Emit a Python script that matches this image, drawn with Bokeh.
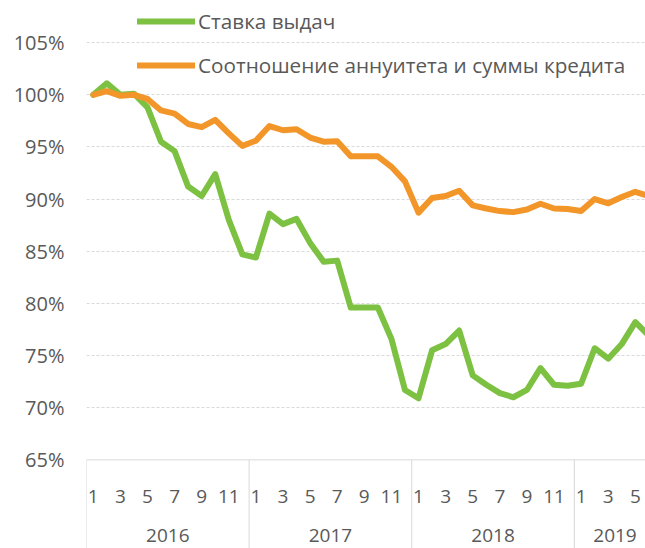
import numpy as np
from bokeh.plotting import figure
from bokeh.models import FixedTicker, PrintfTickFormatter, Legend, LegendItem, Span
from bokeh.core.properties import value
from bokeh.embed import file_html
from bokeh.resources import INLINE

# ---- data ----
years = ["2016", "2017", "2018", "2019"]
months_per_year = [12, 12, 12, 6]
odd_months = [1, 3, 5, 7, 9, 11]

stavka = [100.0, 101.1, 100.0, 100.1, 98.8, 95.5, 94.6, 91.2, 90.3, 92.4, 88.0, 84.7,
          84.4, 88.6, 87.6, 88.1, 85.8, 84.0, 84.1, 79.6, 79.6, 79.6, 76.6, 71.7,
          70.9, 75.5, 76.1, 77.4, 73.1, 72.2, 71.4, 71.0, 71.7, 73.8, 72.2, 72.1,
          72.3, 75.7, 74.7, 76.1, 78.2, 76.9]
ratio = [100.0, 100.35, 99.9, 100.0, 99.6, 98.5, 98.2, 97.2, 96.9, 97.6, 96.3, 95.1,
         95.6, 97.0, 96.6, 96.7, 95.9, 95.5, 95.55, 94.1, 94.1, 94.1, 93.1, 91.7,
         88.7, 90.1, 90.3, 90.8, 89.4, 89.1, 88.85, 88.75, 89.0, 89.55, 89.1, 89.05,
         88.85, 90.0, 89.6, 90.2, 90.7, 90.3]
y_ticks = [65, 70, 75, 80, 85, 90, 95, 100, 105]
series_names = ["Ставка выдач", "Соотношение аннуитета и суммы кредита"]

GREEN = "#7DC142"
ORANGE = "#F2962A"
TEXT = "#595959"
GRID = "#D9D9D9"
FONT = "Open Sans"

x = np.arange(len(stavka))

# category positions
starts = np.concatenate([[0], np.cumsum(months_per_year)[:-1]])
lab_x, lab_t = [], []
for s, n in zip(starts, months_per_year):
    for m in odd_months:
        if m <= n:
            lab_x.append(s + m - 1)
            lab_t.append(str(m))
year_x = [s + n / 2 - 0.5 for s, n in zip(starts, months_per_year)]
sep_x = [s - 0.5 for s in starts] + [starts[-1] + months_per_year[-1] - 0.5]

AXIS_Y = 65
MONTH_Y = 61.5
YEAR_Y = 57.7
BOTTOM_Y = 56.5
TOP_Y = 109.04

p = figure(width=645, height=548, x_range=(-0.5, 40.75), y_range=(BOTTOM_Y, TOP_Y),
           output_backend="svg", toolbar_location=None, x_axis_location=None,
           min_border_left=86, min_border_right=0, min_border_top=0, min_border_bottom=0)
p.outline_line_color = None
p.background_fill_color = "white"
p.xgrid.visible = False
p.ygrid.ticker = FixedTicker(ticks=y_ticks[1:])
p.ygrid.grid_line_color = GRID
p.ygrid.grid_line_dash = "3 2"
p.ygrid.grid_line_width = 1

yax = p.yaxis[0]
yax.ticker = FixedTicker(ticks=y_ticks)
yax.formatter = PrintfTickFormatter(format="%d%%")
yax.axis_line_color = None
yax.major_tick_line_color = None
yax.minor_tick_line_color = None
yax.major_tick_out = 0
yax.major_tick_in = 0
yax.major_label_standoff = 22
yax.major_label_text_font = FONT
yax.major_label_text_font_size = "20px"
yax.major_label_text_color = TEXT

# axis line at 65% and group separators
p.add_layout(Span(location=AXIS_Y, dimension="width", line_color=GRID, line_width=1))
p.segment(x0=sep_x, x1=sep_x, y0=[AXIS_Y] * len(sep_x), y1=[BOTTOM_Y] * len(sep_x),
          line_color=GRID, line_width=1)

p.text(x=lab_x, y=[MONTH_Y] * len(lab_x), text=lab_t, text_align="center",
       text_baseline="middle", text_font=value(FONT), text_font_size="19px", text_color=TEXT)
p.text(x=year_x, y=[YEAR_Y] * len(year_x), text=years, text_align="center",
       text_baseline="middle", text_font=value(FONT), text_font_size="19px", text_color=TEXT)

g = p.line(x, stavka, line_color=GREEN, line_width=6, line_join="round", line_cap="round")
o = p.line(x, ratio, line_color=ORANGE, line_width=6, line_join="round", line_cap="round")

legend = Legend(items=[LegendItem(label=series_names[0], renderers=[g]),
                       LegendItem(label=series_names[1], renderers=[o])],
                location=(51, 469), orientation="vertical", glyph_width=58, glyph_height=20,
                label_height=20, spacing=16, padding=0, margin=0, label_standoff=3,
                background_fill_alpha=0, border_line_color=None,
                label_text_font=FONT, label_text_font_size="20.7px", label_text_color=TEXT)
p.add_layout(legend)

open("out.html", "w").write(file_html(p, INLINE))
